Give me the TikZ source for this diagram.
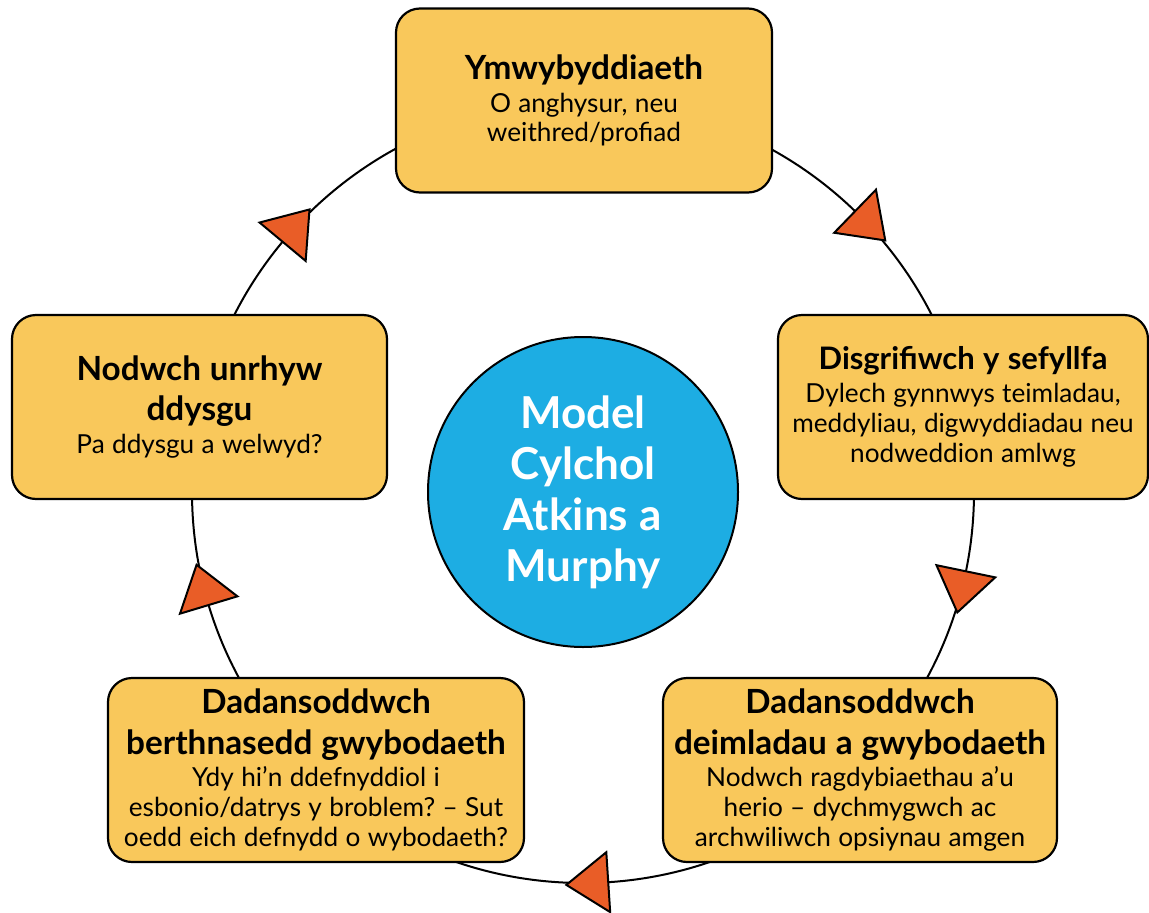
\documentclass[tikz,border=0pt]{standalone}
\usepackage{fontspec}
\setmainfont{Lato}[WordSpace=1.1]
\frenchspacing
\usetikzlibrary{calc}
\definecolor{boxyellow}{HTML}{F9C85B}
\definecolor{hubblue}{HTML}{1DADE3}
\definecolor{triorange}{HTML}{E95D27}
\newcommand\bxTitle[2][33.3]{{\fontsize{#1}{40.5}\selectfont\bfseries #2\par}}
\newcommand\bxBody[1]{{\fontsize{26.2}{29.8}\selectfont\vspace{3pt}#1\par}}
\begin{document}
\begin{tikzpicture}[x=1pt,y=-1pt,
  box/.style={draw=black, line width=2.2pt, fill=boxyellow, rounded corners=24pt,
    inner sep=0pt, align=flush center, minimum height=184pt},
  hub/.style={circle, draw=black, line width=2pt, fill=hubblue, minimum size=310pt,
    inner sep=0pt, align=center, text=white, font=\fontsize{44}{51}\selectfont\bfseries},
  cycleline/.style={draw=black, line width=2pt},
  arrowtri/.style={fill=triorange, draw=black, line width=2pt, line join=miter}]
\useasboundingbox (0,0) rectangle (1149,913);
\coordinate (C) at (583,492);
% cycle circle
\draw[cycleline] (C) circle[radius=391];
% direction triangles
\foreach \a in {-45.9, 11.7, 86.3, 163.2, 219.8}
  \draw[arrowtri] ($(C)+(\a:391)+(\a+90:42)$) -- ($(C)+(\a:421)$) -- ($(C)+(\a:361)$) -- cycle;
% boxes
\node[box, minimum width=376pt, text width=368pt] (aware) at (584,100.5)
  {\bxTitle{Ymwybyddiaeth}\bxBody{O anghysur, neu\\weithred/profiad}};
\node[box, minimum width=370pt, text width=364pt] (describe) at (963,407)
  {\bxTitle[31]{Disgrifiwch y sefyllfa}\bxBody{Dylech gynnwys teimladau,\\meddyliau, digwyddiadau neu\\nodweddion amlwg}};
\node[box, minimum width=394pt, text width=390pt] (feel) at (860,770)
  {\bxTitle{Dadansoddwch\\deimladau a gwybodaeth}\bxBody{Nodwch ragdybiaethau a’u\\herio – dychmygwch ac\\archwiliwch opsiynau amgen}};
\node[box, minimum width=416pt, text width=410pt] (relev) at (316,770)
  {\bxTitle{Dadansoddwch\\berthnasedd gwybodaeth}\bxBody{Ydy hi’n ddefnyddiol i\\esbonio/datrys y broblem? – Sut\\oedd eich defnydd o wybodaeth?}};
\node[box, minimum width=375pt, text width=368pt] (learn) at (199.5,407)
  {\bxTitle{Nodwch unrhyw\\ddysgu}\bxBody{Pa ddysgu a welwyd?}};
% hub
\node[hub] (hubnode) at (C) {Model\\Cylchol\\Atkins a\\Murphy};
\end{tikzpicture}
\end{document}
